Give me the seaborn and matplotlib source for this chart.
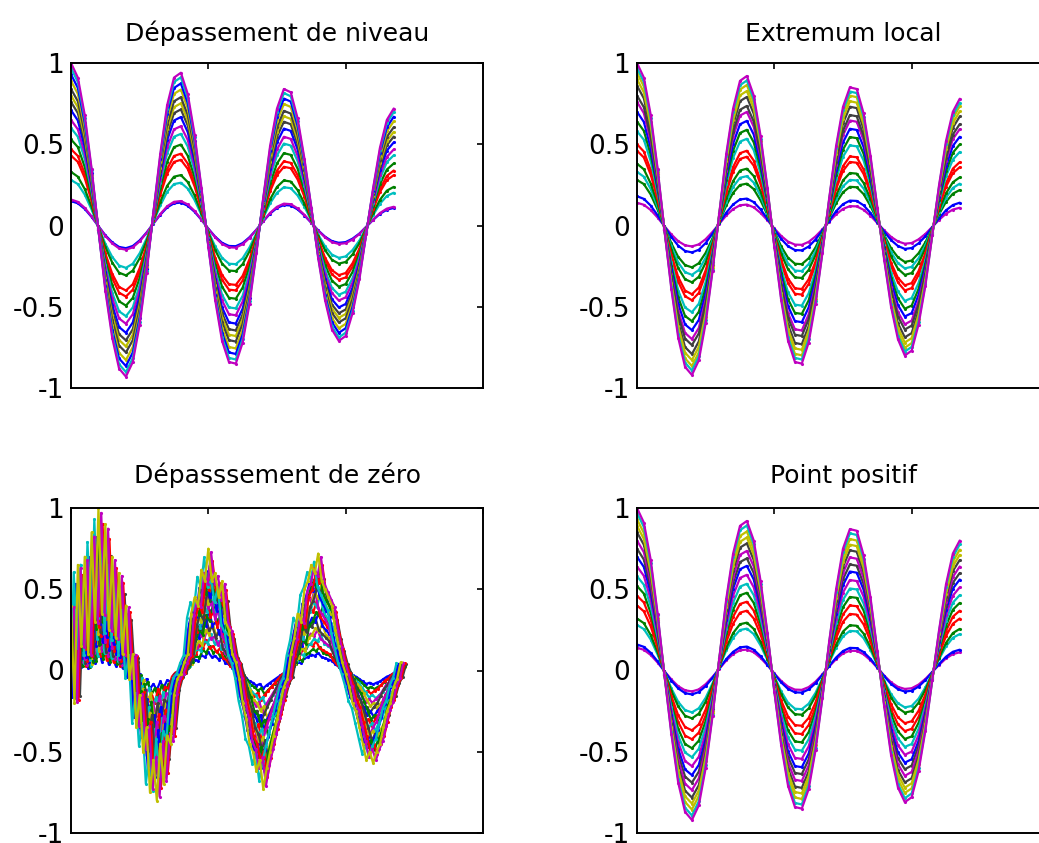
import matplotlib
matplotlib.use("Agg")
import matplotlib.pyplot as plt
import seaborn as sns
import pandas as pd

# sample positions shared by the three smooth panels
t_grid = [0.00, 0.05, 0.10, 0.15, 0.20, 0.25, 0.30, 0.35, 0.40, 0.45,
          0.50, 0.55, 0.60, 0.65, 0.70, 0.75, 0.80, 0.85, 0.90, 0.95,
          1.00, 1.05, 1.10, 1.15, 1.20, 1.25, 1.30, 1.35, 1.40, 1.45,
          1.50, 1.55, 1.60, 1.65, 1.70, 1.75, 1.80, 1.85, 1.90, 1.95,
          2.00, 2.05, 2.10, 2.15, 2.20, 2.25, 2.30, 2.35]

# outer (largest) curve of each panel
wave_niveau = [1.00, 0.91, 0.68, 0.35, -0.03, -0.40, -0.69, -0.88, -0.93, -0.84,
               -0.61, -0.29, 0.08, 0.44, 0.74, 0.91, 0.94, 0.81, 0.56, 0.23,
               -0.13, -0.46, -0.71, -0.84, -0.85, -0.72, -0.48, -0.17, 0.17, 0.49,
               0.72, 0.84, 0.82, 0.66, 0.41, 0.11, -0.20, -0.46, -0.64, -0.71,
               -0.68, -0.54, -0.33, -0.05, 0.23, 0.48, 0.65, 0.72]
wave_extremum = [1.00, 0.91, 0.68, 0.35, -0.03, -0.39, -0.69, -0.87, -0.92, -0.83,
                 -0.60, -0.28, 0.08, 0.44, 0.72, 0.89, 0.92, 0.80, 0.55, 0.23,
                 -0.13, -0.46, -0.71, -0.84, -0.85, -0.72, -0.48, -0.17, 0.17, 0.49,
                 0.73, 0.85, 0.84, 0.69, 0.43, 0.11, -0.21, -0.50, -0.70, -0.80,
                 -0.77, -0.61, -0.37, -0.06, 0.25, 0.52, 0.70, 0.78]
wave_positif = [1.00, 0.91, 0.68, 0.35, -0.03, -0.39, -0.69, -0.87, -0.92, -0.83,
                -0.60, -0.28, 0.08, 0.44, 0.72, 0.89, 0.92, 0.80, 0.55, 0.23,
                -0.13, -0.46, -0.71, -0.84, -0.85, -0.73, -0.49, -0.17, 0.18, 0.50,
                0.75, 0.87, 0.86, 0.71, 0.45, 0.12, -0.22, -0.52, -0.72, -0.81,
                -0.78, -0.62, -0.37, -0.06, 0.25, 0.53, 0.72, 0.80]

# relative size of each curve (small to large) and its colour
scales_niveau = [0.15, 0.16, 0.28, 0.33, 0.43, 0.47, 0.53, 0.60, 0.65,
                 0.71, 0.76, 0.80, 0.84, 0.89, 0.93, 0.97, 1.00]
colors_niveau = ['b', 'm', 'c', 'g', 'r', 'r', 'g', 'c', 'm',
                 'b', 'k', 'y', 'k', 'y', 'b', 'c', 'm']
scales_extremum = [0.14, 0.18, 0.28, 0.33, 0.38, 0.46, 0.50, 0.58, 0.64,
                   0.70, 0.76, 0.80, 0.86, 0.90, 0.94, 0.97, 1.00]
colors_extremum = ['m', 'b', 'g', 'c', 'g', 'r', 'r', 'c', 'g',
                   'b', 'm', 'k', 'k', 'y', 'y', 'c', 'm']
scales_positif = [0.14, 0.16, 0.28, 0.32, 0.40, 0.46, 0.52, 0.58, 0.64,
                  0.70, 0.75, 0.80, 0.85, 0.89, 0.93, 0.97, 1.00]
colors_positif = ['m', 'b', 'c', 'g', 'r', 'r', 'g', 'c', 'm',
                  'b', 'k', 'm', 'k', 'y', 'y', 'c', 'm']

# zero-crossing panel: noisy outer curve (every 0.025), sizes and small time offsets
wave_zero = [0.40, -0.20, 0.65, 0.15, 0.70, 0.10, 0.85, 0.30, 1.00, 0.35,
             0.90, 0.25, 0.70, 0.20, 0.60, 0.10, 0.40, -0.05, 0.10, -0.35,
             -0.15, -0.50, -0.35, -0.75, -0.55, -0.80, -0.45, -0.70, -0.40, -0.45,
             -0.15, -0.05, -0.02, 0.05, 0.10, 0.35, 0.45, 0.40, 0.62, 0.55,
             0.75, 0.55, 0.60, 0.45, 0.55, 0.30, 0.25, 0.10, 0.05, -0.05,
             -0.20, -0.30, -0.45, -0.50, -0.62, -0.55, -0.73, -0.60, -0.50, -0.40,
             -0.30, -0.20, -0.10, -0.05, 0.10, 0.20, 0.35, 0.30, 0.50, 0.55,
             0.65, 0.60, 0.72, 0.55, 0.50, 0.45, 0.40, 0.25, 0.15, 0.05,
             -0.02, -0.10, -0.20, -0.25, -0.35, -0.45, -0.55, -0.50, -0.57, -0.50,
             -0.45, -0.35, -0.25, -0.20, -0.10, -0.05, 0.05]
t_zero = [i * 0.025 for i in range(len(wave_zero))]
scales_zero = [0.15, 0.20, 0.25, 0.30, 0.35, 0.40, 0.45, 0.50, 0.55, 0.60,
               0.65, 0.70, 0.74, 0.78, 0.82, 0.86, 0.90, 0.93, 0.97, 1.00]
shifts_zero = [0.000, 0.010, -0.015, 0.020, -0.005, 0.030, -0.020, 0.005, 0.035, -0.010,
               0.015, -0.025, 0.025, 0.040, -0.015, 0.010, 0.030, -0.030, 0.020, 0.000]
colors_zero = ['b', 'g', 'r', 'c', 'm', 'y', 'k', 'b', 'g', 'r',
               'c', 'm', 'y', 'k', 'b', 'g', 'r', 'c', 'm', 'y']

titles = ["Dépassement de niveau", "Extremum local",
          "Dépasssement de zéro", "Point positif"]

matlab_colors = {'b': (0, 0, 1), 'g': (0, 0.5, 0), 'r': (1, 0, 0),
                 'c': (0, 0.75, 0.75), 'm': (0.75, 0, 0.75),
                 'y': (0.75, 0.75, 0), 'k': (0.25, 0.25, 0.25)}


def build_frame(times, wave, scales, shifts=None):
    rows = []
    for i, s in enumerate(scales):
        dt = shifts[i] if shifts is not None else 0.0
        for t, v in zip(times, wave):
            rows.append({'t': t + dt, 'v': s * v, 'curve': f"c{i:02d}"})
    return pd.DataFrame(rows)


sns.set_style("white")
plt.rcParams['font.family'] = ['DejaVu Sans']
plt.rcParams['axes.edgecolor'] = 'black'
plt.rcParams['axes.linewidth'] = 1.4
plt.rcParams['text.color'] = 'black'
plt.rcParams['axes.titlecolor'] = 'black'

W, H = 1039, 843
fig = plt.figure(figsize=(W / 100, H / 100), dpi=100)

# pixel boxes (left, top, right, bottom) of the four axes
boxes = [(71, 63, 483, 388), (637, 63, 1049, 388),
         (71, 508, 483, 833), (637, 508, 1049, 833)]

panels = [
    build_frame(t_grid, wave_niveau, scales_niveau),
    build_frame(t_grid, wave_extremum, scales_extremum),
    build_frame(t_zero, wave_zero, scales_zero, shifts_zero),
    build_frame(t_grid, wave_positif, scales_positif),
]
panel_colors = [colors_niveau, colors_extremum, colors_zero, colors_positif]
title_pads = [16, 16, 18, 18]

for k, (box, df) in enumerate(zip(boxes, panels)):
    l, t, r, b = box
    ax = fig.add_axes([l / W, 1 - b / H, (r - l) / W, (b - t) / H])
    order = sorted(df['curve'].unique())
    pal = [matlab_colors[c] for c in panel_colors[k]]
    sns.lineplot(data=df, x='t', y='v', hue='curve', hue_order=order,
                 palette=pal, legend=False, sort=False, estimator=None,
                 ax=ax, lw=1.6, marker='.', ms=4.5, mew=0)
    ax.set_xlim(0, 3)
    ax.set_ylim(-1, 1)
    ax.set_xticks([0, 1, 2, 3])
    ax.set_xticklabels([])
    ax.set_yticks([-1, -0.5, 0, 0.5, 1])
    ax.set_yticklabels(['-1', '-0.5', '0', '0.5', '1'])
    ax.tick_params(direction='in', length=4, width=1.2, top=True, right=True,
                   labelsize=19, pad=5, colors='black')
    ax.set_xlabel('')
    ax.set_ylabel('')
    ax.set_title(titles[k], fontsize=18, pad=title_pads[k], color='black')
    for sp in ax.spines.values():
        sp.set_visible(True)
        sp.set_color('black')

fig.savefig("out.png", dpi=100)
